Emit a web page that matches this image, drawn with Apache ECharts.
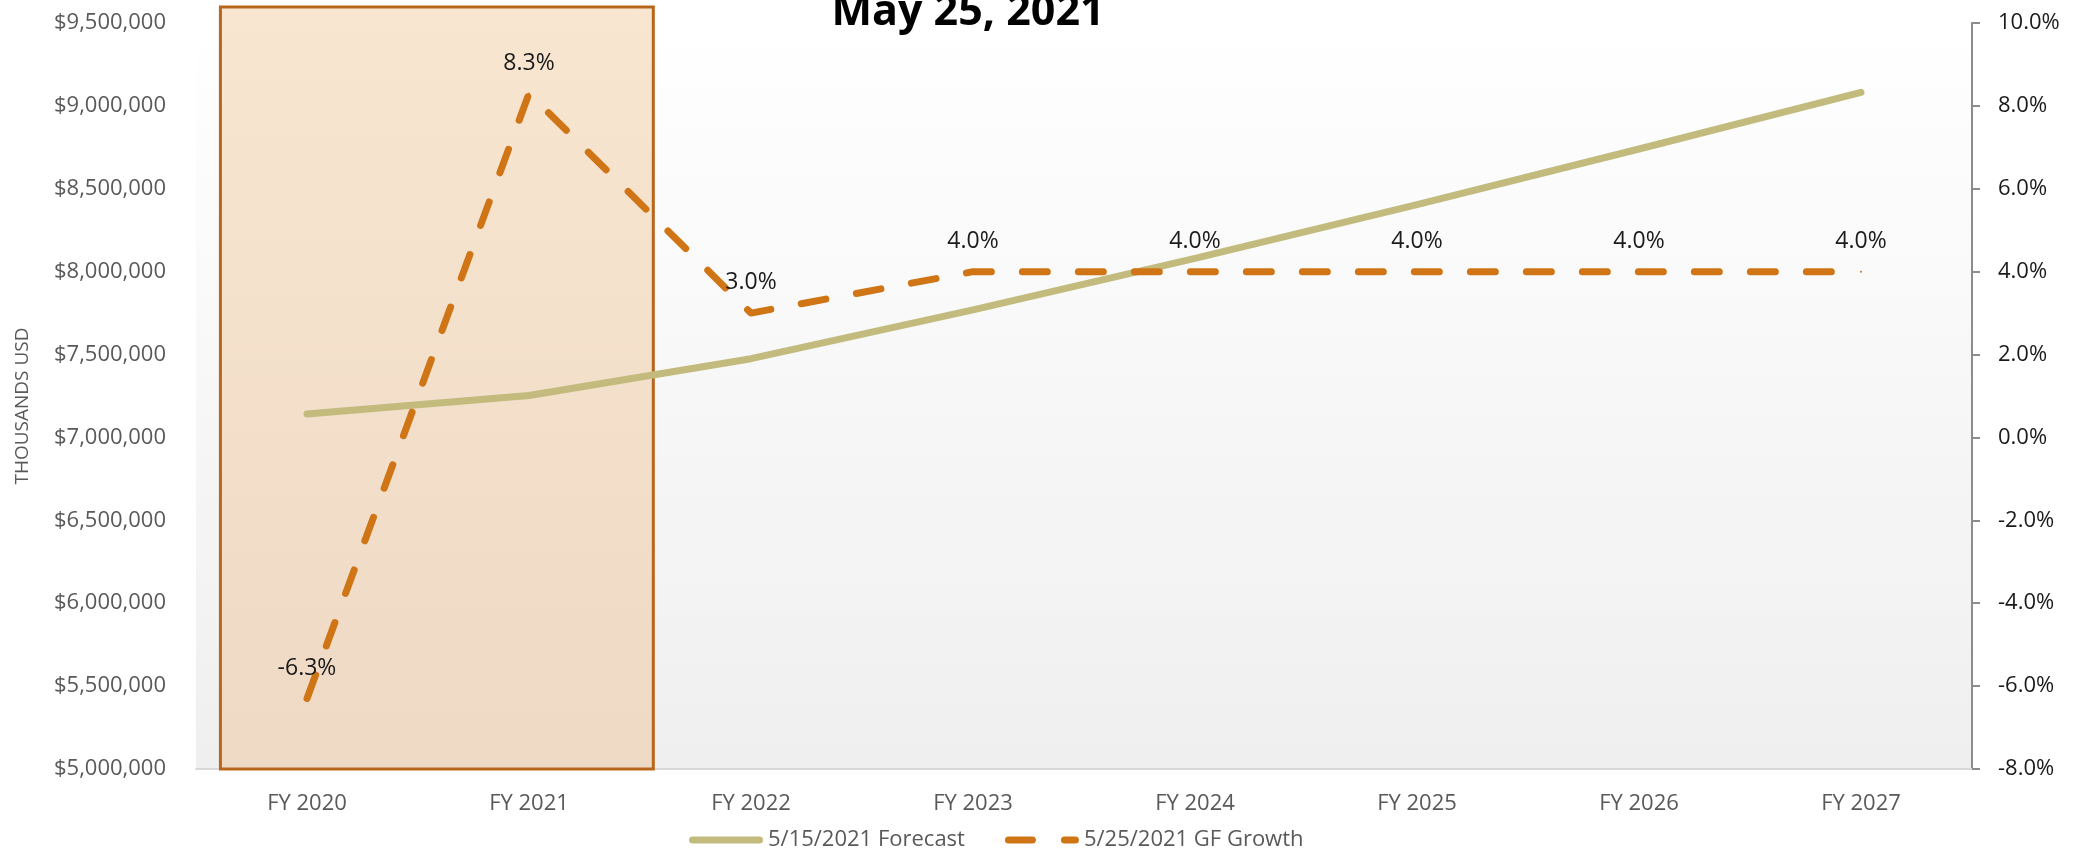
<!DOCTYPE html>
<html>
<head>
<meta charset="utf-8">
<title>GF Growth - May 25, 2021</title>
<script src="https://cdn.jsdelivr.net/npm/echarts@6/dist/echarts.min.js"></script>
<style>
  html, body { margin: 0; padding: 0; background: #fff; }
  #chart { width: 2081px; height: 851px; }
</style>
</head>
<body>
<div id="chart"></div>
<script>
  // data
  var categories = ['FY 2020', 'FY 2021', 'FY 2022', 'FY 2023', 'FY 2024', 'FY 2025', 'FY 2026', 'FY 2027'];
  var forecast = [7141000, 7253000, 7475000, 7770000, 8080000, 8405000, 8740000, 9082000];
  var gfGrowth = [-6.3, 8.3, 3.0, 4.0, 4.0, 4.0, 4.0, 4.0];
  var leftTicks = [5000000, 9500000, 500000];   // min, max, interval
  var rightTicks = [-8, 10, 2];
  var highlighted = ['FY 2020', 'FY 2021'];
  var seriesNames = ['5/15/2021 Forecast', '5/25/2021 GF Growth'];

  var colorForecast = '#c3bb7e';
  var colorGrowth = '#d07516';

  // legend icons (74 x 7): a solid rounded bar, and a dash + dot
  var iconSolid = 'path://M3.5,0H70.5A3.5,3.5 0 0 1 70.5,7H3.5A3.5,3.5 0 0 1 3.5,0Z';
  var iconDash = 'path://M3.5,0H27.5A3.5,3.5 0 0 1 27.5,7H3.5A3.5,3.5 0 0 1 3.5,0Z' +
                 'M59.5,0H70.5A3.5,3.5 0 0 1 70.5,7H59.5A3.5,3.5 0 0 1 59.5,0Z';

  var chart = echarts.init(document.getElementById('chart'));

  var option = {
    animation: false,
    title: {
      text: 'May 25, 2021',
      left: 963,
      top: -14,
      textAlign: 'center',
      textStyle: { fontFamily: 'Open Sans', fontWeight: 'bold', fontSize: 43, color: '#000' }
    },
    legend: {
      left: 684,
      top: 824,
      itemWidth: 74,
      itemHeight: 7,
      itemGap: 40,
      textStyle: { fontFamily: 'Open Sans', fontSize: 22, color: '#595959' },
      data: [
        { name: seriesNames[0], icon: iconSolid, itemStyle: { color: colorForecast } },
        { name: seriesNames[1], icon: iconDash, itemStyle: { color: colorGrowth } }
      ]
    },
    grid: {
      left: 196,
      right: 109,
      top: 23,
      bottom: 82,
      show: true,
      borderWidth: 0,
      backgroundColor: new echarts.graphic.LinearGradient(0, 0, 0, 1, [
        { offset: 0, color: '#ffffff' },
        { offset: 1, color: '#efefef' }
      ])
    },
    xAxis: {
      type: 'category',
      data: categories,
      boundaryGap: true,
      axisLine: { onZero: false, lineStyle: { color: '#d9d9d9', width: 2 } },
      axisTick: { show: false },
      axisLabel: { fontFamily: 'Open Sans', fontSize: 22, color: '#595959', margin: 24 }
    },
    yAxis: [{
      type: 'value',
      min: leftTicks[0],
      max: leftTicks[1],
      interval: leftTicks[2],
      name: 'THOUSANDS USD',
      nameLocation: 'middle',
      nameGap: 164,
      nameTextStyle: { fontFamily: 'Open Sans', fontSize: 19, color: '#595959', padding: [0, 0, 0, -20] },
      axisLine: { show: false },
      axisTick: { show: false },
      splitLine: { show: false },
      axisLabel: {
        fontFamily: 'Open Sans', fontSize: 22, color: '#595959', margin: 30,
        formatter: function (v) { return '$' + v.toLocaleString('en-US'); }
      }
    }, {
      type: 'value',
      position: 'right',
      min: rightTicks[0],
      max: rightTicks[1],
      interval: rightTicks[2],
      axisLine: { show: true, onZero: false, lineStyle: { color: '#8c8c8c', width: 2 } },
      axisTick: { show: true, inside: false, length: 8, lineStyle: { color: '#8c8c8c', width: 2 } },
      splitLine: { show: false },
      axisLabel: {
        fontFamily: 'Open Sans', fontSize: 22, color: '#1a1a1a', margin: 26,
        formatter: function (v) { return v.toFixed(1) + '%'; }
      }
    }],
    series: [{
      name: seriesNames[0],
      type: 'line',
      yAxisIndex: 0,
      data: forecast,
      symbol: 'none',
      z: 3,
      lineStyle: { color: colorForecast, width: 7, cap: 'round', join: 'round' },
      itemStyle: { color: colorForecast }
    }, {
      name: seriesNames[1],
      type: 'line',
      yAxisIndex: 1,
      data: gfGrowth,
      showSymbol: true,
      symbol: 'circle',
      symbolSize: 2,
      z: 4,
      lineStyle: { color: colorGrowth, width: 7, type: [25, 31], cap: 'round', join: 'round' },
      itemStyle: { color: colorGrowth },
      label: {
        show: true,
        position: 'top',
        distance: 18,
        fontFamily: 'Open Sans',
        fontSize: 23,
        color: '#1a1a1a',
        formatter: function (p) { return p.value.toFixed(1) + '%'; }
      }
    }]
  };

  chart.setOption(option);

  // highlight box around FY 2020 - FY 2021, placed from the category axis
  function drawBox() {
    var x0 = chart.convertToPixel({ xAxisIndex: 0 }, highlighted[0]);
    var x1 = chart.convertToPixel({ xAxisIndex: 0 }, highlighted[1]);
    var step = x1 - x0;
    var yBottom = chart.convertToPixel({ yAxisIndex: 0 }, leftTicks[0]);
    var yTop = chart.convertToPixel({ yAxisIndex: 0 }, leftTicks[1]);
    chart.setOption({
      graphic: [{
        type: 'rect',
        z: 1,
        shape: { x: x0 - 0.39 * step, y: yTop - 16, width: 1.95 * step, height: yBottom - yTop + 16 },
        style: {
          fill: new echarts.graphic.LinearGradient(0, 0, 0, 1, [
            { offset: 0, color: '#f8e6d0' },
            { offset: 1, color: '#eed9c5' }
          ]),
          stroke: '#b8661b',
          lineWidth: 3
        }
      }]
    });
  }
  drawBox();

  window.addEventListener('resize', function () {
    chart.resize();
    drawBox();
  });
</script>
</body>
</html>
